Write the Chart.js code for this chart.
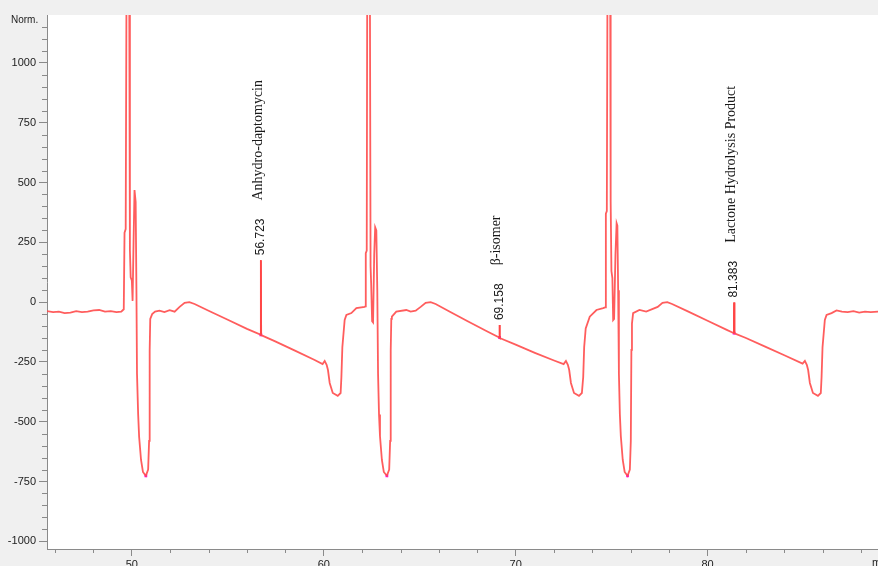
<!DOCTYPE html>
<html><head><meta charset="utf-8">
<script src="https://cdn.jsdelivr.net/npm/chart.js@4/dist/chart.umd.min.js"></script>
<style>html,body{margin:0;padding:0;background:#f0f0f0;overflow:hidden}canvas{display:block}</style>
</head><body><canvas id="c" width="878" height="566"></canvas>
<script>
// ---- data ----
const times = [
45.58,45.90,46.20,46.50,46.80,47.10,47.40,47.70,48.00,48.30,48.60,48.90,49.20,49.45,49.58,49.62,49.68,49.73,49.86,49.90,
49.94,50.00,50.04,50.09,50.14,50.20,50.24,50.27,50.33,50.38,50.48,50.58,50.73,50.85,50.90,50.93,50.96,51.06,51.21,51.44,
51.70,51.97,52.23,52.49,52.75,53.00,53.27,54.00,55.00,56.00,56.70,56.723,56.74,57.50,58.50,59.50,59.94,60.05,60.15,60.22,
60.31,60.47,60.73,60.88,60.92,60.97,61.09,61.18,61.44,61.70,62.13,62.17,62.19,62.24,62.27,62.40,62.44,62.47,62.52,62.57,
62.63,62.68,62.74,62.79,62.83,62.88,62.93,63.03,63.13,63.29,63.41,63.46,63.49,63.52,63.55,63.78,64.30,64.53,64.79,65.05,
65.31,65.57,65.83,66.50,67.50,68.50,69.14,69.158,69.175,70.00,71.00,72.00,72.50,72.62,72.72,72.79,72.88,73.04,73.30,73.45,
73.52,73.57,73.65,73.86,74.21,74.56,74.66,74.70,74.75,74.79,74.92,74.95,74.99,75.04,75.08,75.13,75.20,75.26,75.30,75.34,
75.38,75.43,75.48,75.58,75.68,75.83,75.95,76.00,76.03,76.06,76.12,76.45,76.80,77.40,77.65,77.90,78.15,79.00,80.00,81.00,
81.37,81.383,81.40,82.00,83.00,84.00,84.95,85.07,85.17,85.24,85.33,85.49,85.75,85.90,85.94,85.99,86.11,86.20,86.46,86.72,
87.00,87.30,87.60,87.90,88.20,88.50,88.90
];
const signal = [
-38,-42,-40,-46,-44,-38,-42,-40,-35,-33,-40,-38,-42,-40,-30,290,305,1500,1500,217,
104,90,5,250,468,418,50,-300,-470,-563,-660,-710,-726,-700,-580,-200,-70,-50,-40,-36,
-42,-34,-40,-20,-3,0,-8,-36,-74,-112,-136,175,-138,-165,-203,-241,-259,-246,-262,-284,
-338,-380,-392,-380,-313,-188,-75,-54,-46,-25,-20,-18,205,215,1500,1500,150,79,-80,-85,
200,313,300,50,-300,-470,-560,-660,-710,-726,-700,-580,-200,-70,-61,-40,-33,-40,-36,-20,
-3,0,-8,-37,-80,-122,-148,-96,-150,-178,-212,-244,-259,-246,-262,-284,-338,-380,-392,-380,
-313,-188,-110,-61,-33,-25,-22,370,380,1500,1500,420,130,100,-75,-70,200,330,320,50,
-300,-470,-560,-660,-710,-726,-700,-580,-200,-90,-46,-33,-40,-20,-3,0,-8,-40,-78,-116,
-130,-2,-131,-150,-186,-222,-257,-246,-262,-284,-338,-380,-392,-380,-313,-188,-75,-54,-46,-35,
-40,-42,-38,-44,-40,-42,-40
];
const peakTimes = [56.723, 69.158, 81.383];
const peakTops  = [175, -96, -2];
const peakBases = [-137, -148, -130];
const peakNames = ['Anhydro-daptomycin', '\u03B2-isomer', 'Lactone Hydrolysis Product'];
const dipTimes  = [50.73, 63.29, 75.83];
const dipValues = [-726, -726, -726];
const yTickLabels = [-1000, -750, -500, -250, 0, 250, 500, 750, 1000];
const xTickLabels = [50, 60, 70, 80];
const yAxisTitle = 'Norm.';
const xAxisTitle = 'min';

// ---- build datasets ----
const trace = times.map((t, i) => ({x: t, y: signal[i]}));
const spikeSets = peakTimes.map((t, i) => ({
  data: [{x: t - 0.015, y: peakBases[i]}, {x: t, y: peakTops[i]}, {x: t + 0.015, y: peakBases[i]}],
  borderColor: '#ff0000', borderWidth: 1.5, pointRadius: 0, tension: 0, clip: 0
}));
const markers = peakTimes.map((t, i) => ({x: t, y: peakBases[i]}))
  .concat(dipTimes.map((t, i) => ({x: t, y: dipValues[i]})));

const deco = {
  id: 'deco',
  beforeDraw(chart) {
    const {ctx, chartArea: a} = chart;
    ctx.save();
    ctx.fillStyle = '#f0f0f0'; ctx.fillRect(0, 0, chart.width, chart.height);
    ctx.fillStyle = '#ffffff'; ctx.fillRect(a.left, a.top, a.right - a.left, a.bottom - a.top);
    ctx.restore();
  },
  afterDraw(chart) {
    const {ctx, chartArea: a, scales: {x, y}} = chart;
    ctx.save();
    // minor ticks
    ctx.strokeStyle = '#8a8a8a'; ctx.lineWidth = 1;
    ctx.beginPath();
    for (let v = -1000; v <= 1150; v += 50) {
      if (v % 250 === 0) continue;
      const py = Math.round(y.getPixelForValue(v)) + 0.5;
      ctx.moveTo(a.left - 5, py); ctx.lineTo(a.left, py);
    }
    for (let v = 46; v <= 88; v += 2) {
      if (v % 10 === 0) continue;
      const px = Math.round(x.getPixelForValue(v)) + 0.5;
      ctx.moveTo(px, a.bottom); ctx.lineTo(px, a.bottom + 4);
    }
    ctx.stroke();
    // axis titles
    ctx.fillStyle = '#222';
    ctx.font = '10px "Liberation Sans", Arial, sans-serif';
    ctx.textAlign = 'left'; ctx.textBaseline = 'middle';
    ctx.fillText(yAxisTitle, 11, 20);
    ctx.font = '11px "Liberation Sans", Arial, sans-serif';
    ctx.fillText(xAxisTitle, 872, 563);
    // peak annotations (rotated)
    peakTimes.forEach((t, i) => {
      const px = x.getPixelForValue(t);
      const top = y.getPixelForValue(peakTops[i]);
      ctx.save();
      ctx.translate(px, top - 5);
      ctx.rotate(-Math.PI / 2);
      ctx.font = '12px "Liberation Sans", Arial, sans-serif';
      ctx.fillStyle = '#1a1a1a';
      ctx.textAlign = 'left'; ctx.textBaseline = 'middle';
      const label = t.toFixed(3);
      ctx.fillText(label, 0, 0);
      const w = ctx.measureText(label).width;
      ctx.font = '14px "Liberation Serif", "Times New Roman", serif';
      ctx.fillText(peakNames[i], w + 18, -3);
      ctx.restore();
    });
    ctx.restore();
  }
};

new Chart(document.getElementById('c'), {
  type: 'line',
  data: {
    datasets: [
      {data: trace, borderColor: 'rgba(255,75,75,0.9)', borderWidth: 1.8, pointRadius: 0, tension: 0, clip: 0},
      ...spikeSets,
      {type: 'scatter', data: markers, backgroundColor: '#ff00ff', borderColor: '#ff00ff',
       pointStyle: 'rect', pointRadius: 2, borderWidth: 0, clip: 0}
    ]
  },
  options: {
    responsive: false, animation: false, devicePixelRatio: 1,
    layout: {autoPadding: false, padding: {top: 15, right: 0, left: 0, bottom: 0}},
    plugins: {legend: {display: false}, tooltip: {enabled: false}},
    scales: {
      x: {
        type: 'linear', min: 45.58, max: 88.88,
        afterBuildTicks: s => { s.ticks = xTickLabels.map(v => ({value: v})); },
        afterFit: s => { s.height = 17; s.paddingLeft = 0; s.paddingRight = 0; },
        border: {display: true, color: '#8a8a8a', width: 1},
        grid: {drawOnChartArea: false, drawTicks: true, tickLength: 7, color: '#8a8a8a'},
        ticks: {padding: 2, color: '#222', font: {family: '"Liberation Sans", Arial, sans-serif', size: 11},
                maxRotation: 0, autoSkip: false, callback: v => String(v)}
      },
      y: {
        type: 'linear', min: -1032, max: 1200,
        afterBuildTicks: s => { s.ticks = yTickLabels.map(v => ({value: v})); },
        afterFit: s => { s.width = 47; s.paddingTop = 0; s.paddingBottom = 0; },
        border: {display: true, color: '#8a8a8a', width: 1},
        grid: {drawOnChartArea: false, drawTicks: true, tickLength: 8, color: '#8a8a8a'},
        ticks: {padding: 3, color: '#222', font: {family: '"Liberation Sans", Arial, sans-serif', size: 11},
                autoSkip: false, callback: v => String(v)}
      }
    }
  },
  plugins: [deco]
});
</script>
</body></html>
